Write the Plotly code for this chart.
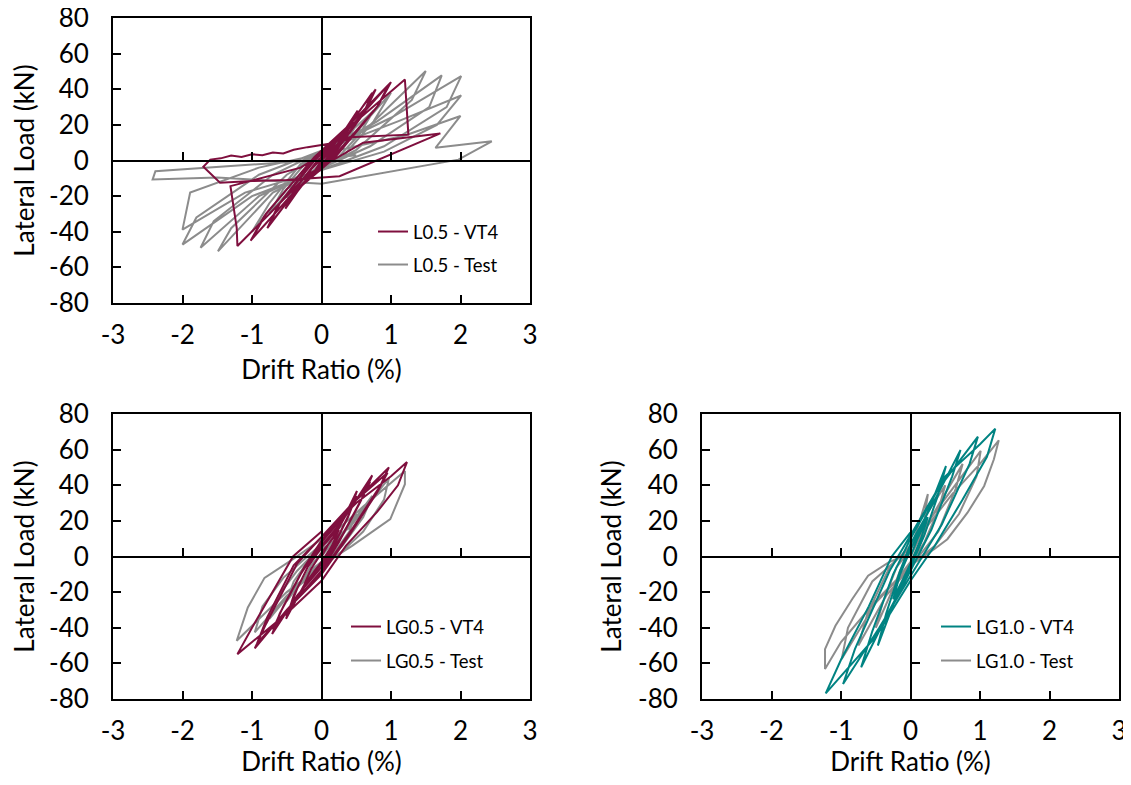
import plotly.graph_objects as go

# ---------------- data ----------------
# Panel 1 : L0.5
l05_vt4_drift = [0, 0.1, 0.25, 0.15, 0, -0.1, -0.25, -0.15, 0,
                 0.2, 0.5, 0.4, 0.1, -0.2, -0.5, -0.4, -0.1,
                 0.25, 0.52, 0.38, 0.05, -0.25, -0.52, -0.38, -0.05,
                 0.3, 0.73, 0.6, 0.15, -0.3, -0.75, -0.6, -0.1,
                 0.3, 0.78, 0.62, 0.1, -0.35, -0.78, -0.62, -0.1,
                 0.4, 0.97, 0.8, 0.2, -0.4, -1.0, -0.8, -0.1,
                 0.4, 1.0, 0.82, 0.15, -0.45, -1.02, -0.82, -0.1,
                 0.5, 1.2, 1.25, 0.4, -0.3, -1.31, -1.22, -1.21, -0.8, -0.2, 0.6, 1.71,
                 0.26, -0.5, -1.0, -1.46, -1.7, -1.6, -1.45, -1.3, -1.15, -1.0, -0.85,
                 -0.7, -0.55, -0.4, -0.2, 0.2]
l05_vt4_load = [0, 6, 14, 6, 0, -6, -13, -5, 1,
                10, 26, 18, 2, -10, -25, -17, -2,
                12, 28, 17, 0, -12, -27, -16, 0,
                14, 38, 26, 2, -14, -36, -24, 0,
                15, 40, 27, 1, -16, -38, -25, 1,
                18, 42.7, 30, 2, -18, -44, -30, 2,
                20, 44, 31, 1, -20, -45, -31, 2,
                22, 45.5, 14.5, 13, -4, -14.4, -37.8, -48, -32, -8, 10, 15.2,
                -8.8, -11, -11.5, -12.5, -3.5, 0.5, 1.2, 2.8, 2.0, 3.5, 3.0,
                4.5, 4.0, 6.0, 7.5, 10]

l05_test_drift = [0, 0.12, 0.25, 0.15, 0, -0.12, -0.25, -0.15, 0,
                  0.25, 0.5, 0.35, 0.1, -0.25, -0.5, -0.35, -0.1,
                  0.3, 0.75, 0.55, 0.2, -0.4, -0.75, -0.55, -0.2,
                  0.5, 1.0, 0.75, 0.3, -0.5, -1.0, -0.75, -0.3,
                  0.7, 1.5, 1.3, 0.5, -0.7, -1.49, -1.3, -0.5,
                  0.8, 1.73, 1.55, 0.7, -0.9, -1.74, -1.55, -0.7,
                  1.0, 2.01, 1.8, 0.9, -1.0, -2.0, -1.8, -0.9,
                  1.1, 2.01, 1.66, 0.9, -1.1, -2.0, -1.89, -0.9,
                  1.2, 2.0, 1.64, 2.45, 1.97, 0.0, -1.5, -2.43, -2.39, -0.5, 0.5]
l05_test_load = [0, 6, 11, 5, -1, -6, -11, -5, 1,
                 10, 20, 10, -1, -10, -21, -11, 1,
                 12, 28, 15, 0, -14, -30, -16, 0,
                 16, 38, 22, 2, -16, -40, -24, -2,
                 20, 50.2, 34, 6, -18, -51, -38, -8,
                 22, 47.8, 30, 8, -20, -49, -34, -8,
                 24, 47.4, 30, 8, -20, -47.2, -32, -8,
                 22, 36.5, 20, 5, -18, -38.8, -18, -4,
                 14, 25, 7.1, 10.8, 0.5, -13, -9.6, -10.7, -6, -1, 3]

# Panel 2 : LG0.5
lg05_vt4_drift = [0, 0.1, 0.25, 0.15, 0, -0.1, -0.25, -0.15, 0,
                  0.2, 0.51, 0.4, 0.2, 0, -0.25, -0.51, -0.4, -0.2, 0,
                  0.25, 0.5, 0.38, 0.15, -0.1, -0.5, -0.35, -0.15, 0,
                  0.3, 0.73, 0.6, 0.3, 0, -0.35, -0.71, -0.6, -0.3, 0,
                  0.35, 0.7, 0.55, 0.25, 0, -0.4, -0.7, -0.55, -0.25, 0,
                  0.4, 0.97, 0.85, 0.45, 0, -0.5, -0.96, -0.8, -0.35, 0,
                  0.45, 0.95, 0.8, 0.4, 0, -0.45, -0.93, -0.78, -0.4, 0,
                  0.5, 1.0, 1.23, 1.1, 0.8, 0.35, 0, -0.5, -1.0, -1.21, -1.0, -0.7, -0.41, 0]
lg05_vt4_load = [0, 7, 15, 6, -3, -8, -16, -7, 2,
                 12, 36.8, 24, 8, -4, -16, -35, -22, -6, 5,
                 16, 34, 22, 4, -8, -33, -18, -2, 6,
                 20, 45.6, 34, 12, -6, -22, -43.5, -32, -10, 8,
                 24, 42, 30, 8, -8, -26, -41, -28, -6, 9,
                 28, 50, 40, 16, -9, -30, -51.6, -38, -4, 11,
                 30, 47, 36, 12, -10, -28, -49, -34, -5, 11,
                 30, 45, 53, 40, 25, 6, -13.6, -32, -48, -54.8, -40, -20, 0, 14]

lg05_test_drift = [0, 0.1, 0.25, 0.15, 0, -0.1, -0.25, -0.15, 0,
                   0.25, 0.5, 0.4, 0.2, 0, -0.25, -0.5, -0.4, -0.2, 0,
                   0.3, 0.73, 0.6, 0.3, 0, -0.35, -0.75, -0.62, -0.35, 0,
                   0.4, 0.97, 0.9, 0.6, 0.3, 0, -0.5, -0.96, -0.85, -0.55, -0.2, 0,
                   0.6, 1.2, 1.2, 0.99, 0.44, 0, -0.5, -1.22, -1.06, -0.82, -0.41, 0]
lg05_test_load = [0, 5, 11, 4, -3, -6, -12, -5, 2,
                  10, 24, 14, 3, -4, -12, -25, -14, -3, 4,
                  12, 34, 22, 6, -5, -16, -35, -22, -8, 6,
                  16, 44, 32, 14, 3, -6, -22, -42.6, -28, -12, 0, 7,
                  28, 48, 40.6, 21, 6, -5, -20, -47.3, -28.6, -12, -1.5, 9.7]

# Panel 3 : LG1.0
lg10_vt4_drift = [0, 0.1, 0.25, 0.15, 0, -0.1, -0.25, -0.15, 0,
                  0.2, 0.51, 0.4, 0.2, 0, -0.2, -0.47, -0.35, -0.15, 0,
                  0.3, 0.72, 0.6, 0.3, 0, -0.3, -0.71, -0.55, -0.25, 0,
                  0.4, 0.97, 0.85, 0.45, 0, -0.45, -0.97, -0.8, -0.3, 0,
                  0.5, 1.0, 1.22, 1.1, 0.75, 0.35, 0, -0.5, -1.0, -1.22, -1.0, -0.6, -0.27, 0]
lg10_vt4_load = [0, 10, 22, 10, -4, -12, -24, -10, 4,
                 20, 50.8, 35, 12, -6, -22, -50, -32, -8, 7,
                 28, 59.8, 45, 15, -8, -30, -62.2, -42, -10, 10,
                 38, 67.3, 52, 18, -11, -40, -71.6, -52, -8, 12,
                 45, 63, 71.8, 56, 32, 6, -13.6, -45, -67, -76.8, -58, -28, 0, 13.5]

lg10_test_drift = [0, 0.1, 0.25, 0.15, 0, -0.1, -0.25, -0.15, 0,
                   0.25, 0.2, 0.5, 0.4, 0.2, 0, -0.25, -0.5, -0.4, -0.2, 0,
                   0.3, 0.75, 0.65, 0.4, 0, -0.35, -0.75, -0.62, -0.3, 0,
                   0.45, 1.01, 0.95, 0.7, 0.35, 0, -0.5, -0.99, -0.9, -0.55, -0.2, 0,
                   0.6, 1.0, 1.27, 1.2, 1.06, 0.82, 0.53, 0.34, 0, -0.5, -1.0, -1.23,
                   -1.23, -1.08, -0.84, -0.61, -0.32, 0]
lg10_test_load = [0, 8, 18, 8, -3, -8, -18, -8, 3,
                  35, 22, 40, 26, 8, -4, -18, -40, -26, -6, 4,
                  22, 52, 38, 14, -6, -22, -50, -32, -6, 6,
                  30, 59.3, 45, 24, 6, -5, -26, -57.6, -40, -14, -2, 5,
                  35, 52, 65.2, 54.6, 39.6, 24.6, 9.7, 4.1, -5, -25, -48, -63.2,
                  -52, -38.9, -24, -10.8, -3.4, 2.2]

x_ticks = [-3, -2, -1, 0, 1, 2, 3]
y_ticks = [-80, -60, -40, -20, 0, 20, 40, 60, 80]

MAROON = "#7f0f3e"
TEAL = "#008382"
GREY = "#8c8c8c"
FONT = "Lato"
FS = 26

# ---------------- layout geometry ----------------
# the page body adds an 8 px margin; the figure starts 8 px in
OFF = 8
W, H = 1131 - OFF, 785 - 2 * OFF
def px(v):
    return (v - OFF) / W
def py(v):
    return 1 - (v - OFF) / H

panels = [
    dict(xd=[px(113), px(530)], yd=[py(303), py(18)], x0=px(321.5), y0=py(160.5)),
    dict(xd=[px(113), px(530)], yd=[py(699), py(414)], x0=px(321.5), y0=py(556.5)),
    dict(xd=[px(702), px(1119)], yd=[py(699), py(414)], x0=px(910.5), y0=py(556.5)),
]

series = [
    (0, l05_vt4_drift, l05_vt4_load, "L0.5 - VT4", MAROON),
    (0, l05_test_drift, l05_test_load, "L0.5 - Test", GREY),
    (1, lg05_vt4_drift, lg05_vt4_load, "LG0.5 - VT4", MAROON),
    (1, lg05_test_drift, lg05_test_load, "LG0.5 - Test", GREY),
    (2, lg10_vt4_drift, lg10_vt4_load, "LG1.0 - VT4", TEAL),
    (2, lg10_test_drift, lg10_test_load, "LG1.0 - Test", GREY),
]

legend_pos = [(373, 232), (373, 265), (346, 627), (346, 661), (936, 627), (936, 661)]

fig = go.Figure()
layout = dict(
    width=W, height=H,
    margin=dict(l=0, r=0, t=0, b=0, autoexpand=False),
    paper_bgcolor="white", plot_bgcolor="white",
    font=dict(family=FONT, size=FS, color="black"),
    showlegend=True,
)

order = [1, 0, 3, 2, 5, 4]
for i in order:
    p, xs, ys, name, col = series[i]
    ax = "" if p == 0 else str(p + 1)
    lg = "legend" if i == 0 else "legend%d" % (i + 1)
    fig.add_trace(go.Scatter(x=xs, y=ys, mode="lines", name=name,
                             line=dict(color=col, width=2),
                             xaxis="x" + ax, yaxis="y" + ax, legend=lg))

for i, (lx, ly) in enumerate(legend_pos):
    key = "legend" if i == 0 else "legend%d" % (i + 1)
    layout[key] = dict(x=px(lx), y=py(ly), xanchor="left", yanchor="middle",
                       bgcolor="rgba(0,0,0,0)", borderwidth=0,
                       font=dict(family=FONT, size=18.5, color="black"))

for p, g in enumerate(panels):
    ax = "" if p == 0 else str(p + 1)
    xa = "xaxis" + ax
    ya = "yaxis" + ax
    layout[xa] = dict(domain=g["xd"], anchor="y" + ax, range=[-3, 3],
                      tickmode="array", tickvals=x_ticks,
                      ticktext=[str(v) for v in x_ticks],
                      showline=True, mirror=True, linecolor="black", linewidth=2,
                      ticks="inside", ticklen=8, tickwidth=2, tickcolor="black",
                      showgrid=False, zeroline=False, automargin=False,
                      ticklabelstandoff=8, ticklabeloverflow="allow",
                      tickfont=dict(family=FONT, size=FS),
                      title=dict(text="Drift Ratio (%)", standoff=12,
                                 font=dict(family=FONT, size=FS)))
    layout[ya] = dict(domain=g["yd"], anchor="x" + ax, range=[-80, 80],
                      tickmode="array", tickvals=y_ticks,
                      ticktext=[str(v) for v in y_ticks],
                      showline=True, mirror=True, linecolor="black", linewidth=2,
                      ticks="inside", ticklen=8, tickwidth=2, tickcolor="black",
                      showgrid=False, zeroline=False, automargin=False,
                      ticklabelstandoff=17, ticklabeloverflow="allow",
                      tickfont=dict(family=FONT, size=FS),
                      title=dict(text="Lateral Load (kN)", standoff=9,
                                 font=dict(family=FONT, size=FS)))
    zx = "xaxis%d" % (p + 4)
    zy = "yaxis%d" % (p + 4)
    layout[zx] = dict(domain=g["xd"], overlaying="x" + ax, anchor="free",
                      position=g["y0"], range=[-3, 3],
                      tickmode="array", tickvals=x_ticks, showticklabels=False,
                      showline=True, linecolor="black", linewidth=2,
                      ticks="inside", ticklen=8, tickwidth=2, tickcolor="black",
                      showgrid=False, zeroline=False, automargin=False)
    layout[zy] = dict(domain=g["yd"], overlaying="y" + ax, anchor="free",
                      position=g["x0"], range=[-80, 80], side="left",
                      tickmode="array", tickvals=y_ticks, showticklabels=False,
                      showline=True, linecolor="black", linewidth=2,
                      ticks="inside", ticklen=8, tickwidth=2, tickcolor="black",
                      showgrid=False, zeroline=False, automargin=False)
    fig.add_trace(go.Scatter(x=[None], y=[None], xaxis="x%d" % (p + 4), yaxis="y" + ax,
                             showlegend=False, hoverinfo="skip"))
    fig.add_trace(go.Scatter(x=[None], y=[None], xaxis="x" + ax, yaxis="y%d" % (p + 4),
                             showlegend=False, hoverinfo="skip"))

fig.update_layout(**layout)
fig.write_html("out.html")
